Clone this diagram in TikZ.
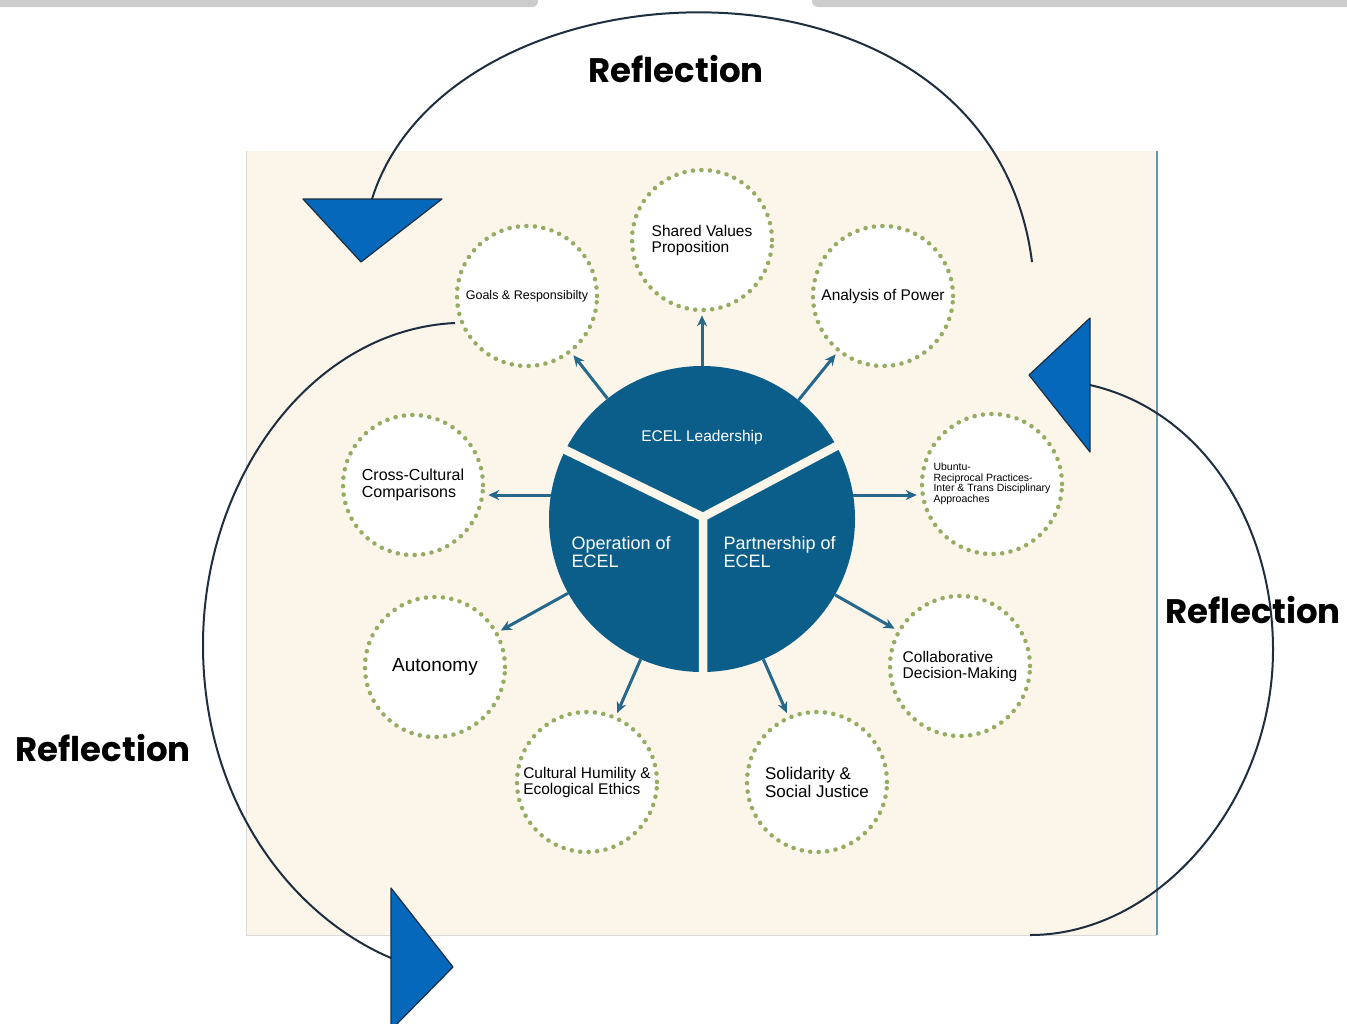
\documentclass[tikz,border=0pt]{standalone}
\usepackage{fontspec}
\usetikzlibrary{arrows.meta}
\setmainfont{Liberation Sans}
\newfontfamily\reflfont{Poppins}
\definecolor{panel}{RGB}{252,246,234}
\definecolor{hubblue}{RGB}{12,94,138}
\definecolor{linkblue}{RGB}{38,104,140}
\definecolor{dotgreen}{RGB}{150,172,98}
\definecolor{tipblue}{RGB}{6,104,186}
\definecolor{arcnavy}{RGB}{28,46,64}
\begin{document}
\begin{tikzpicture}[x=1pt, y=-1pt, line join=round, >={Stealth[length=11pt,width=10pt]},
	sat/.style={circle, fill=white, draw=dotgreen, line width=4.5pt, dash pattern=on 0.1pt off 8.4pt, line cap=round, minimum size=140pt, inner sep=0pt, align=left, font=\fontsize{15.5}{16}\selectfont},
	link/.style={->, draw=linkblue, line width=3pt, shorten >=3pt},
	refl/.style={font=\reflfont\bfseries\fontsize{34}{34}\selectfont},
	tip/.style={fill=tipblue, draw=arcnavy, line width=1.2pt},
	loop/.style={draw=arcnavy, line width=2pt}]
	\useasboundingbox (0,0) rectangle (1347,1023);
	% strip along the top edge
	\fill[gray!40, rounded corners=6pt] (-10,-10) rectangle (538,7);
	\fill[gray!40, rounded corners=6pt] (812,-10) rectangle (1357,7);
	% panel
	\fill[panel] (246,151) rectangle (1157,935);
	\draw[gray!30, line width=1pt] (246,151) -- (246,935) -- (1157,935);
	\draw[linkblue!70, line width=2pt] (1157,151) -- (1157,935);

	% hub split into three parts
	\node[circle, fill=hubblue, minimum size=306pt, inner sep=0pt] (hub) at (702,519) {};
	\coordinate (mid) at (703,517);
	\draw[panel, line width=8.5pt] (mid) -- ++(206:165) (mid) -- ++(332:165) (mid) -- ++(0,170);
	\node[white, font=\fontsize{15.5}{16}\selectfont] (lead) at (702,437) {ECEL Leadership};
	\node[white, align=left, anchor=west, font=\fontsize{18}{18}\selectfont] (oper) at (568,552) {Operation of\\ECEL};
	\node[white, align=left, anchor=west, font=\fontsize{18}{18}\selectfont] (part) at (720,552) {Partnership of\\ECEL};

	% satellites
	\node[sat] (shared) at (702,240) {Shared Values\\Proposition};
	\node[sat] (power) at (883,296) {Analysis of Power};
	\node[sat, font=\fontsize{10.5}{10.5}\selectfont] (ubuntu) at (992,484) {Ubuntu-\\Reciprocal Practices-\\Inter \& Trans Disciplinary\\Approaches};
	\node[sat] (collab) at (960,666) {Collaborative\\Decision-Making};
	\node[sat, font=\fontsize{17}{18}\selectfont] (solid) at (817,782) {Solidarity \&\\Social Justice};
	\node[sat] (humil) at (587,782) {Cultural Humility \&\\Ecological Ethics};
	\node[sat, font=\fontsize{19}{19}\selectfont] (auto) at (435,667) {Autonomy};
	\node[sat, font=\fontsize{16}{17}\selectfont] (cross) at (413,485) {Cross-Cultural\\Comparisons};
	\node[sat, font=\fontsize{12.5}{13}\selectfont] (goals) at (527,296) {Goals \& Responsibilty};
	\foreach \s in {shared,power,collab,solid,humil,auto,goals}
		\draw[link] (hub) -- (\s);
	\draw[link] (hub.9) -- (ubuntu.west |- hub.9);
	\draw[link] (hub.171) -- (cross.east |- hub.171);

	% reflection loops
	\coordinate (topA) at (372,199);
	\coordinate (topB) at (1032,262);
	\draw[loop] (topA) .. controls (450,-50) and (990,-70) .. (topB);
	\coordinate (rgtA) at (1090,385);
	\coordinate (rgtB) at (1030,935);
	\draw[loop] (rgtA) .. controls (1200,410) and (1273,520) .. (1273,650) .. controls (1273,800) and (1160,935) .. (rgtB);
	\coordinate (lftA) at (455,323);
	\coordinate (lftB) at (391,958);
	\draw[loop] (lftA) .. controls (310,330) and (203,480) .. (203,645) .. controls (203,800) and (290,915) .. (lftB);
	\draw[tip] (303,199) -- (442,199) -- (361,262) -- cycle;
	\draw[tip] (1090,318) -- (1090,452) -- (1029,375) -- cycle;
	\draw[tip] (391,888) -- (391,1030) -- (453,967) -- cycle;
	\node[refl] (rtop) at (676,69) {Reflection};
	\node[refl] (rright) at (1253,610) {Reflection};
	\node[refl] (rleft) at (103,748) {Reflection};
\end{tikzpicture}
\end{document}
